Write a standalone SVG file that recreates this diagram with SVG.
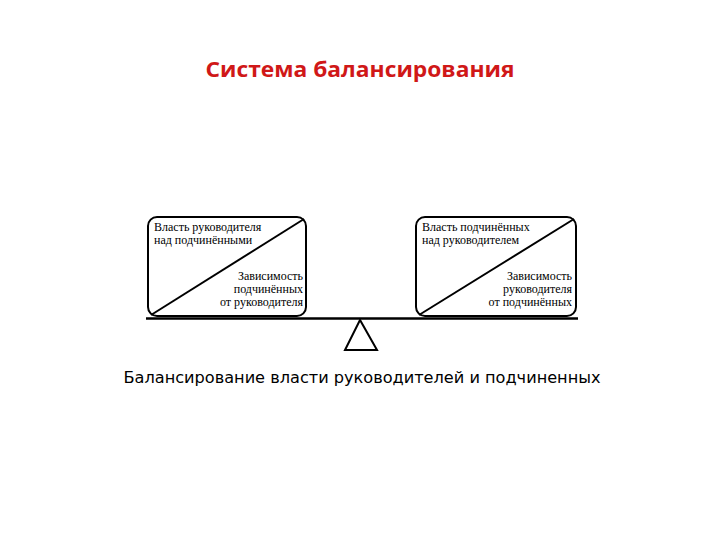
<svg xmlns="http://www.w3.org/2000/svg" width="720" height="540" viewBox="0 0 720 540">
<style>
.box{fill:#fff;stroke:#000;stroke-width:2}
.ln{stroke:#000;stroke-width:2;fill:none}
.t{font-family:"Liberation Serif","Times New Roman",serif;font-size:12px;fill:#000}
.r{text-anchor:end}
</style>
<rect width="720" height="540" fill="#fff"/>
<text x="360" y="77" text-anchor="middle" font-family="'Open Sans','Noto Sans',sans-serif" font-weight="bold" font-size="21" fill="#d01818" textLength="309" lengthAdjust="spacingAndGlyphs">Система балансирования</text>
<g id="left-box">
<rect class="box" x="148" y="217" width="158" height="99" rx="9"/>
<text class="t" x="154" y="231">Власть руководителя</text>
<text class="t" x="154" y="244">над подчинёнными</text>
<text class="t r" x="303" y="280">Зависимость</text>
<text class="t r" x="303" y="293">подчинённых</text>
<text class="t r" x="303" y="306">от руководителя</text>
</g>
<g id="right-box">
<rect class="box" x="416" y="217" width="160" height="99" rx="9"/>
<text class="t" x="422" y="231">Власть подчинённых</text>
<text class="t" x="422" y="244">над руководителем</text>
<text class="t r" x="572" y="280">Зависимость</text>
<text class="t r" x="572" y="293">руководителя</text>
<text class="t r" x="572" y="306">от подчинённых</text>
</g>
<g id="connectors">
<line class="ln" x1="151" y1="315" x2="304" y2="219"/>
<line class="ln" x1="419" y1="315" x2="574" y2="219"/>
<line x1="146" y1="318.5" x2="578" y2="318.5" stroke="#000" stroke-width="2.5"/>
</g>
<g id="fulcrum">
<polygon points="360,320 345,350 377,350" fill="#fff" stroke="#000" stroke-width="2"/>
</g>
<text x="362" y="383" text-anchor="middle" font-family="'DejaVu Sans',Verdana,sans-serif" font-size="16" fill="#000" textLength="477" lengthAdjust="spacingAndGlyphs">Балансирование власти руководителей и подчиненных</text>
</svg>
